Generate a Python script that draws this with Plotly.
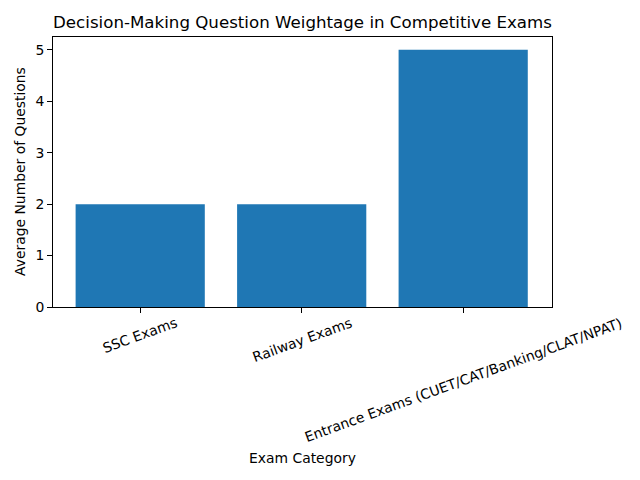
import plotly.graph_objects as go

categories = ["SSC Exams", "Railway Exams", "Entrance Exams (CUET/CAT/Banking/CLAT/NPAT)"]
values = [2, 2, 5]

title = "Decision-Making Question Weightage in Competitive Exams"
x_title = "Exam Category"
y_title = "Average Number of Questions"

font = "DejaVu Sans"
fs = 13.9
fs_title = 16.67

fig = go.Figure(go.Bar(x=categories, y=values, width=0.8, marker=dict(color="#1f77b4", line=dict(width=0))))

annotations = []
for c in categories:
    annotations.append(dict(x=c, xref="x", y=0, yref="paper", yshift=-5, text=c, showarrow=False,
                            textangle=-20, xanchor="center", yanchor="top",
                            font=dict(family=font, size=fs, color="black")))
annotations.append(dict(x=0.5, xref="paper", y=0, yref="paper", yshift=-141, text=x_title, showarrow=False,
                        xanchor="center", yanchor="top", font=dict(family=font, size=fs, color="black")))
annotations.append(dict(x=0, xref="paper", y=0.5, yref="paper", xshift=-23, text=y_title, showarrow=False,
                        textangle=-90, xanchor="right", yanchor="middle", font=dict(family=font, size=fs, color="black")))

fig.update_layout(
    width=640, height=480,
    margin=dict(l=45, r=96, t=29, b=181, autoexpand=False),
    paper_bgcolor="white", plot_bgcolor="white",
    font=dict(family=font, size=fs, color="black"),
    title=dict(text=title, x=0.5, xref="paper", xanchor="center", y=1, yref="container", yanchor="top", pad=dict(t=8),
               font=dict(family=font, size=fs_title, color="black")),
    bargap=0.2,
    showlegend=False,
    annotations=annotations,
)
fig.update_xaxes(range=[-0.54, 2.55], showticklabels=False, ticks="outside", ticklen=5, tickcolor="black",
                 showline=True, linecolor="black", linewidth=1, mirror=True, showgrid=False, zeroline=False)
fig.update_yaxes(range=[0, 5.25], dtick=1, ticks="outside", ticklen=5, tickcolor="black",
                 showline=True, linecolor="black", linewidth=1, mirror=True, showgrid=False, zeroline=False,
                 tickfont=dict(family=font, size=fs))
fig.write_html("out.html")
